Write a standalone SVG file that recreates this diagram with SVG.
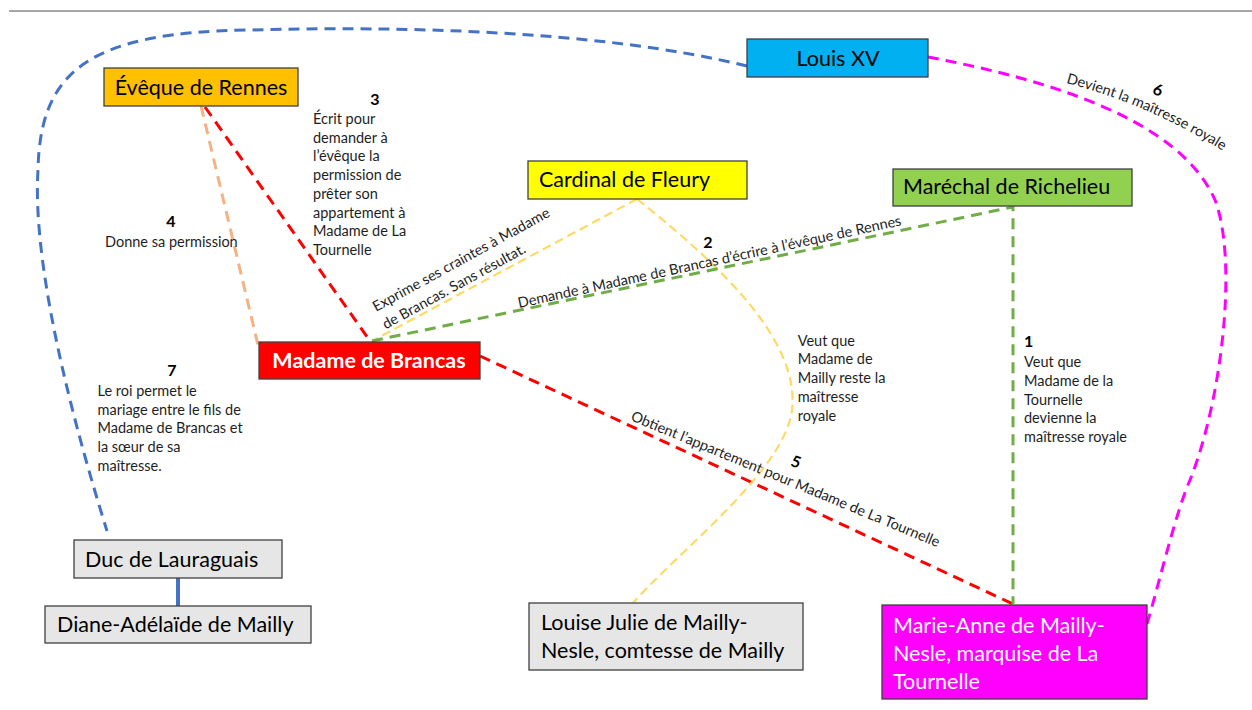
<svg xmlns="http://www.w3.org/2000/svg" width="1252" height="710" viewBox="0 0 1252 710">
<style>
text{font-family:Lato,'Liberation Sans',sans-serif}
.box{stroke:#404040;stroke-width:1.3}
.nt{font-size:21.5px;fill:#000}
.wt{font-size:21.5px;fill:#fff}
.lb{font-size:14.5px;fill:#1e1e1e}
.num{font-size:16px;font-weight:bold;fill:#000}
.c{fill:none;stroke-width:3;stroke-dasharray:11 7}
.y{fill:none;stroke:#FFD966;stroke-width:2.2;stroke-dasharray:9 5}
</style>
<rect width="1252" height="710" fill="#fff"/>
<line x1="9" y1="11" x2="1252" y2="11" stroke="#A6A6A6" stroke-width="2"/>
<g id="connectors">
<path class="c" stroke="#4472C4" d="M747,66 C600,30 400,26 250,30 C90,32 40,70 38,170 C33,250 60,380 107,531"/>
<path class="c" stroke="#FF00FF" d="M928,57 C1050,80 1180,120 1215,200 C1238,260 1222,400 1190,480 C1175,515 1160,580 1147,624"/>
<line class="c" stroke="#F4B183" x1="201" y1="106" x2="258" y2="345"/>
<line class="c" stroke="#FF0000" x1="205" y1="107" x2="370" y2="341"/>
<line class="c" stroke="#FF0000" x1="480" y1="356" x2="1013" y2="604"/>
<line class="y" x1="637" y1="199" x2="372" y2="341"/>
<path class="y" d="M637,199 C720,265 800,340 792,410 C785,470 680,550 633,603"/>
<path class="c" stroke="#70AD47" d="M372,341 L1013,207 L1013,604"/>
<line x1="178" y1="578" x2="178" y2="606" stroke="#4472C4" stroke-width="4"/>
</g>
<g id="eveque">
<rect class="box" x="104" y="68" width="194" height="38" fill="#FFC000"/>
<text class="nt" x="201" y="95" text-anchor="middle">Évêque de Rennes</text>
</g>
<g id="louis">
<rect class="box" x="747" y="39" width="181" height="38" fill="#00B0F0"/>
<text class="nt" x="838" y="66" text-anchor="middle">Louis XV</text>
</g>
<g id="fleury">
<rect class="box" x="528" y="161" width="219" height="38" fill="#FFFF00"/>
<text class="nt" x="539" y="187">Cardinal de Fleury</text>
</g>
<g id="richelieu">
<rect class="box" x="893" y="169" width="239" height="37" fill="#92D050"/>
<text class="nt" x="903" y="194">Maréchal de Richelieu</text>
</g>
<g id="brancas">
<rect class="box" x="259" y="342" width="221" height="37" fill="#FF0000"/>
<text class="wt" x="369" y="368" text-anchor="middle" font-weight="bold">Madame de Brancas</text>
</g>
<g id="lauraguais">
<rect class="box" x="74" y="540" width="208" height="38" fill="#E7E6E6"/>
<text class="nt" x="85" y="567">Duc de Lauraguais</text>
</g>
<g id="diane">
<rect class="box" x="45" y="606" width="266" height="37" fill="#E7E6E6"/>
<text class="nt" x="57" y="632">Diane-Adélaïde de Mailly</text>
</g>
<g id="louise">
<rect class="box" x="529" y="603" width="274" height="67" fill="#E7E6E6"/>
<text class="nt" x="541" y="630">Louise Julie de Mailly-</text>
<text class="nt" x="541" y="658">Nesle, comtesse de Mailly</text>
</g>
<g id="marieanne">
<rect class="box" x="882" y="605" width="265" height="94" fill="#FF00FF"/>
<text class="wt" x="893" y="633">Marie-Anne de Mailly-</text>
<text class="wt" x="893" y="661">Nesle, marquise de La</text>
<text class="wt" x="893" y="689">Tournelle</text>
</g>
<g id="labels">
<text class="num" x="375" y="105" text-anchor="middle">3</text>
<text class="lb" x="313" y="124">Écrit pour</text>
<text class="lb" x="313" y="142.7">demander à</text>
<text class="lb" x="313" y="161.4">l’évêque la</text>
<text class="lb" x="313" y="180.1">permission de</text>
<text class="lb" x="313" y="198.8">prêter son</text>
<text class="lb" x="313" y="217.5">appartement à</text>
<text class="lb" x="313" y="236.2">Madame de La</text>
<text class="lb" x="313" y="254.9">Tournelle</text>
<text class="num" x="171" y="227" text-anchor="middle">4</text>
<text class="lb" x="105" y="246.7">Donne sa permission</text>
<text class="num" x="172" y="376" text-anchor="middle">7</text>
<text class="lb" x="97.5" y="396">Le roi permet le</text>
<text class="lb" x="97.5" y="414.7">mariage entre le fils de</text>
<text class="lb" x="97.5" y="433.4">Madame de Brancas et</text>
<text class="lb" x="97.5" y="452.1">la sœur de sa</text>
<text class="lb" x="97.5" y="470.8">maîtresse.</text>
<text class="lb" x="797.7" y="345.7">Veut que</text>
<text class="lb" x="797.7" y="364.4">Madame de</text>
<text class="lb" x="797.7" y="383.1">Mailly reste la</text>
<text class="lb" x="797.7" y="401.8">maîtresse</text>
<text class="lb" x="797.7" y="420.5">royale</text>
<text class="num" x="1024" y="347">1</text>
<text class="lb" x="1024" y="367.3">Veut que</text>
<text class="lb" x="1024" y="386">Madame de la</text>
<text class="lb" x="1024" y="404.7">Tournelle</text>
<text class="lb" x="1024" y="423.4">devienne la</text>
<text class="lb" x="1024" y="442.1">maîtresse royale</text>
<g transform="translate(376,312) rotate(-28.8)">
<text class="lb">Exprime ses craintes à Madame</text>
<text class="lb" x="0" y="20">de Brancas. Sans résultat.</text>
</g>
<text class="lb" transform="translate(519,308) rotate(-12.2)">Demande à Madame de Brancas d’écrire à l’évêque de Rennes</text>
<text class="num" x="708" y="248" text-anchor="middle">2</text>
<text class="lb" transform="translate(630,420) rotate(22.5)">Obtient l’appartement pour Madame de La Tournelle</text>
<text class="num" transform="translate(794,467) rotate(20)" text-anchor="middle">5</text>
<path id="p6" d="M1066,83 Q1155,106 1232,157" fill="none"/>
<text class="lb"><textPath href="#p6">Devient la maîtresse royale</textPath></text>
<text class="num" transform="translate(1156,95) rotate(20)" text-anchor="middle">6</text>
</g>
</svg>
